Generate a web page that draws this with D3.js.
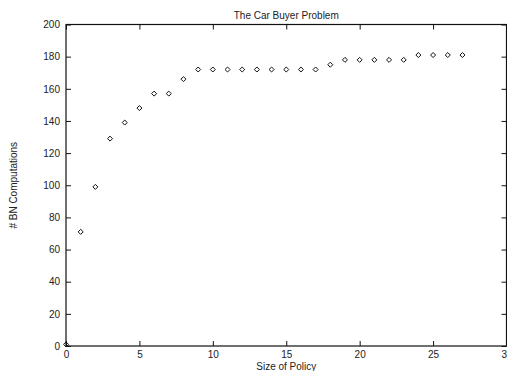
<!DOCTYPE html>
<html>
<head>
<meta charset="utf-8">
<script src="https://cdn.jsdelivr.net/npm/d3@7"></script>
<style>
    body { margin: 0; background: #fff; }
    svg { display: block; font-family: "Liberation Sans", Arial, sans-serif; }
</style>
</head>
<body>
<div id="chart"></div>
<script>
// data
const policy_size = d3.range(28);
const bn_computations = [1, 71, 99, 129, 139, 148, 157, 157, 166, 172,
    172, 172, 172, 172, 172, 172, 172, 172, 175, 178,
    178, 178, 178, 178, 181, 181, 181, 181];
const x_ticks = [0, 5, 10, 15, 20, 25, 30];
const y_ticks = [0, 20, 40, 60, 80, 100, 120, 140, 160, 180, 200];

const chart_title = "The Car Buyer Problem";
const x_label = "Size of Policy";
const y_label = "# BN Computations";

const width = 507;
const height = 371;
const margin = { top: 24.5, left: 66, right: 0.5, bottom: 25 };
const font_size = 10;

const points = policy_size.map((d, i) => ({ x: d, y: bn_computations[i] }));

const x = d3.scaleLinear()
    .domain([0, 30])
    .range([margin.left, width - margin.right]);

const y = d3.scaleLinear()
    .domain([0, 200])
    .range([height - margin.bottom, margin.top]);

const svg = d3.select("#chart")
    .append("svg")
    .attr("width", width)
    .attr("height", height);

// inward ticks on all four sides, gnuplot style
const tick_len = -5;

svg.append("g")
    .attr("transform", `translate(0,${y(0)})`)
    .call(d3.axisBottom(x).tickValues(x_ticks).tickSizeInner(tick_len).tickSizeOuter(0).tickPadding(4.5))
    .call(g => g.select(".domain").remove());

svg.append("g")
    .attr("transform", `translate(0,${y(200)})`)
    .call(d3.axisTop(x).tickValues(x_ticks).tickSizeInner(tick_len).tickSizeOuter(0).tickFormat(""))
    .call(g => g.select(".domain").remove());

svg.append("g")
    .attr("transform", `translate(${x(0)},0)`)
    .call(d3.axisLeft(y).tickValues(y_ticks).tickSizeInner(tick_len).tickSizeOuter(0).tickPadding(6))
    .call(g => g.select(".domain").remove());

svg.append("g")
    .attr("transform", `translate(${x(30)},0)`)
    .call(d3.axisRight(y).tickValues(y_ticks).tickSizeInner(tick_len).tickSizeOuter(0).tickFormat(""))
    .call(g => g.select(".domain").remove());

svg.selectAll(".tick text")
    .attr("font-family", "Liberation Sans, Arial, sans-serif")
    .attr("font-size", font_size)
    .attr("fill", "#222");

svg.selectAll(".tick line")
    .attr("stroke", "#111");

// frame
svg.append("rect")
    .attr("x", x(0))
    .attr("y", y(200))
    .attr("width", x(30) - x(0))
    .attr("height", y(0) - y(200))
    .attr("fill", "none")
    .attr("stroke", "#111")
    .attr("stroke-width", 1.2);

// diamond markers
const diamond = d3.symbol().type(d3.symbolDiamond2).size(16);

svg.append("g")
    .selectAll("path")
    .data(points)
    .join("path")
    .attr("transform", d => `translate(${x(d.x)},${y(d.y)})`)
    .attr("d", diamond)
    .attr("fill", "none")
    .attr("stroke", "#111")
    .attr("stroke-width", 1);

svg.append("text")
    .attr("x", (x(0) + x(30)) / 2)
    .attr("y", 18.5)
    .attr("text-anchor", "middle")
    .attr("font-size", font_size)
    .attr("fill", "#222")
    .text(chart_title);

svg.append("text")
    .attr("x", (x(0) + x(30)) / 2)
    .attr("y", 369.5)
    .attr("text-anchor", "middle")
    .attr("font-size", font_size)
    .attr("fill", "#222")
    .text(x_label);

svg.append("text")
    .attr("transform", `translate(17,${(y(0) + y(200)) / 2}) rotate(-90)`)
    .attr("text-anchor", "middle")
    .attr("font-size", font_size)
    .attr("fill", "#222")
    .text(y_label);
</script>
</body>
</html>
